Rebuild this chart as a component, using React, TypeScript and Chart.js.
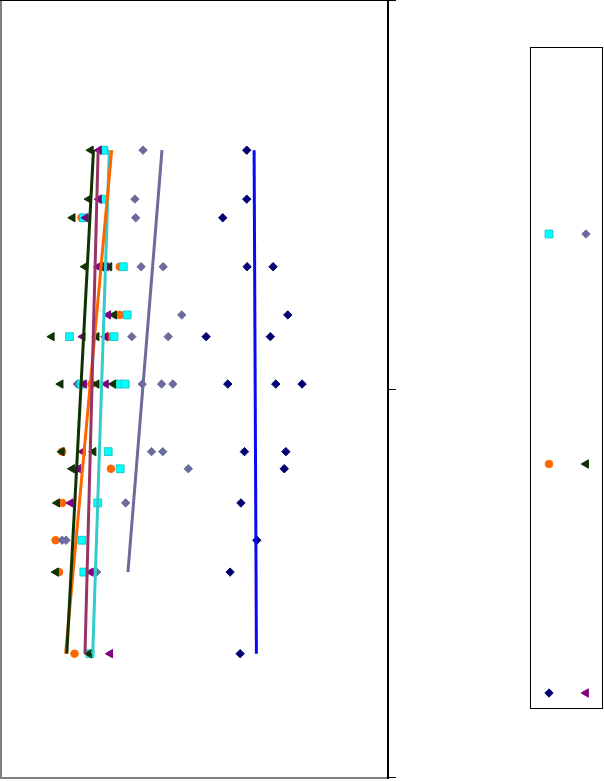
import React, { useEffect, useRef } from "react";
import { Chart, registerables } from "chart.js";

Chart.register(...registerables);

// Sampling depths (rows of the profile), top to bottom
const depths = [19.2, 25.5, 27.9, 34.2, 40.4, 43.2, 49.3, 58.0, 60.2, 64.6, 69.4, 73.5, 84.0];

// Each series: [row index into depths, measured value]
const cyanSquares: [number, number][] = [
  [0, 26.6], [1, 26.6], [2, 21.3], [3, 31.6], [4, 32.6], [5, 17.7], [5, 29.2],
  [6, 20.7], [6, 30.4], [6, 32.1], [7, 27.7], [8, 30.8], [9, 25.0], [10, 20.9],
  [11, 21.4], [12, 23.0],
];
const slateDiamonds: [number, number][] = [
  [0, 36.7], [1, 34.6], [2, 34.8], [3, 36.2], [3, 41.9], [4, 46.7], [5, 33.8],
  [5, 43.2], [6, 19.7], [6, 36.5], [6, 41.5], [6, 44.4], [7, 38.9], [7, 41.8],
  [8, 48.4], [9, 32.2], [10, 15.8], [10, 16.8], [11, 24.7],
];
const orangeCircles: [number, number][] = [
  [0, 26.7], [2, 20.8], [3, 30.7], [4, 30.7], [5, 27.7], [6, 23.4], [7, 15.8],
  [8, 28.4], [9, 15.8], [10, 14.1], [11, 15.0], [12, 19.0],
];
const greenTriangles: [number, number][] = [
  [0, 23.2], [1, 22.7], [2, 18.5], [3, 21.7], [3, 25.9], [3, 28.0], [4, 29.2],
  [5, 13.1], [5, 24.7], [6, 15.4], [6, 24.7], [6, 29.0], [7, 15.7], [7, 23.9],
  [8, 18.4], [9, 14.5], [11, 14.2], [12, 22.8],
];
const navyDiamonds: [number, number][] = [
  [0, 63.5], [1, 63.5], [2, 57.3], [3, 63.6], [3, 70.3], [4, 74.1], [5, 53.0],
  [5, 69.6], [6, 58.6], [6, 71.0], [6, 77.8], [7, 62.9], [7, 73.6], [8, 73.2],
  [9, 62.0], [10, 66.1], [11, 59.2], [12, 61.8],
];
const purpleTriangles: [number, number][] = [
  [0, 25.3], [1, 25.3], [2, 21.9], [3, 25.1], [3, 27.1], [4, 27.7], [5, 21.1],
  [5, 27.0], [6, 21.5], [6, 27.1], [7, 21.1], [8, 20.0], [9, 18.0], [11, 23.2],
  [12, 28.2],
];

// Linear trend values at the shallowest and deepest row of each series
const trendTop = [28.0, 41.6, 28.6, 23.9, 65.4, 25.1];
const trendBottom = [23.7, 32.8, 16.7, 17.0, 66.0, 21.7];

type Series = {
  label: string;
  points: [number, number][];
  style: "rect" | "rectRot" | "circle" | "triangle";
  fill: string;
  stroke: string;
  radius: number;
  trendColor: string;
  layer: number; // higher layers are painted on top
};

const series: Series[] = [
  { label: "A", points: cyanSquares, style: "rect", fill: "#00FFFF", stroke: "#19C8C8", radius: 5.5, trendColor: "#33CCCC", layer: 2 },
  { label: "B", points: slateDiamonds, style: "rectRot", fill: "#6B6B9C", stroke: "#6B6B9C", radius: 4.2, trendColor: "#6B6B9C", layer: 1 },
  { label: "C", points: orangeCircles, style: "circle", fill: "#FF6600", stroke: "#FF6600", radius: 3.8, trendColor: "#FF6600", layer: 0 },
  { label: "D", points: greenTriangles, style: "triangle", fill: "#0F3300", stroke: "#0F3300", radius: 4.8, trendColor: "#0F3300", layer: 3 },
  { label: "E", points: navyDiamonds, style: "rectRot", fill: "#000070", stroke: "#000070", radius: 4.2, trendColor: "#0A0AF0", layer: 4 },
  { label: "F", points: purpleTriangles, style: "triangle", fill: "#800080", stroke: "#800080", radius: 4.8, trendColor: "#993366", layer: 5 },
];

function drawMarker(ctx: CanvasRenderingContext2D, s: Series, x: number, y: number) {
  const r = s.radius;
  ctx.save();
  ctx.fillStyle = s.fill;
  ctx.strokeStyle = s.stroke;
  ctx.lineWidth = 1;
  ctx.beginPath();
  if (s.style === "rect") {
    const h = r * Math.SQRT1_2;
    ctx.rect(x - h, y - h, 2 * h, 2 * h);
  } else if (s.style === "rectRot") {
    ctx.moveTo(x, y - r);
    ctx.lineTo(x + r, y);
    ctx.lineTo(x, y + r);
    ctx.lineTo(x - r, y);
    ctx.closePath();
  } else if (s.style === "circle") {
    ctx.arc(x, y, r, 0, Math.PI * 2);
  } else {
    ctx.moveTo(x - r, y);
    ctx.lineTo(x + r * 0.5, y - r * 0.87);
    ctx.lineTo(x + r * 0.5, y + r * 0.87);
    ctx.closePath();
  }
  ctx.fill();
  ctx.stroke();
  ctx.restore();
}

// Plot frame, right-hand axis ticks and the marker legend
const framePlugin = {
  id: "frameAndLegend",
  afterDraw(chart: any) {
    const ctx: CanvasRenderingContext2D = chart.ctx;
    const a = chart.chartArea;
    const yScale = chart.scales.y;
    ctx.save();
    // plot area border
    ctx.fillStyle = "#808080";
    ctx.fillRect(0, 0, 2, a.bottom + 1);
    ctx.fillRect(0, a.bottom - 1, a.right, 2);
    ctx.fillStyle = "#000000";
    ctx.fillRect(0, 0, a.right, 1);
    ctx.fillRect(a.right - 1, 0, 2, a.bottom + 1);
    // axis ticks
    [0, 50, 100].forEach((v) => {
      const py = Math.round(yScale.getPixelForValue(v));
      const yy = Math.min(Math.max(py - 1, 0), a.bottom);
      ctx.fillRect(a.right, yy, 8, 1);
    });
    // legend box
    const lx = 530.5, ly = 47.5, lw = 72, lh = 661;
    ctx.strokeStyle = "#000000";
    ctx.lineWidth = 1;
    ctx.strokeRect(lx, ly, lw, lh);
    const cols = [549, 586];
    const rows = [234, 464, 693];
    series.forEach((s, i) => {
      const col = cols[i % 2];
      const row = rows[Math.floor(i / 2)];
      drawMarker(ctx, s, col, row);
    });
    ctx.restore();
  },
};

export default function App() {
  const ref = useRef<HTMLCanvasElement>(null);

  useEffect(() => {
    if (!ref.current) return;

    const pointSets = series.map((s) => ({
      type: "scatter" as const,
      label: s.label,
      data: s.points.map(([row, v]) => ({ x: v, y: depths[row] })),
      pointStyle: s.style,
      pointRotation: s.style === "triangle" ? -90 : 0,
      pointRadius: s.radius,
      pointHoverRadius: s.radius,
      pointBackgroundColor: s.fill,
      pointBorderColor: s.stroke,
      pointBorderWidth: 1,
      showLine: false,
      order: 30 - s.layer,
    }));

    const trendSets = series.map((s, i) => {
      const rowsUsed = s.points.map((p) => depths[p[0]]);
      const top = Math.min(...rowsUsed);
      const bottom = Math.max(...rowsUsed);
      return {
        type: "line" as const,
        label: s.label + " trend",
        data: [
          { x: trendTop[i], y: top },
          { x: trendBottom[i], y: bottom },
        ],
        borderColor: s.trendColor,
        borderWidth: 3,
        pointRadius: 0,
        fill: false,
        tension: 0,
        order: 10 - i,
      };
    });

    const chart = new Chart(ref.current, {
      type: "scatter",
      data: { datasets: [...trendSets, ...pointSets] as any },
      options: {
        responsive: false,
        animation: false,
        events: [],
        layout: { autoPadding: false, padding: { left: 1, top: 1, right: 216, bottom: 3 } },
        plugins: { legend: { display: false }, tooltip: { enabled: false } },
        scales: {
          x: { type: "linear", min: 0, max: 100, display: false },
          y: { type: "linear", min: 0, max: 100, reverse: true, display: false },
        },
      },
      plugins: [framePlugin],
    });

    return () => chart.destroy();
  }, []);

  return (
    <div style={{ position: "fixed", left: 0, top: 0, width: 604, height: 781, background: "#ffffff" }}>
      <canvas ref={ref} width={604} height={781} style={{ display: "block" }} />
    </div>
  );
}
